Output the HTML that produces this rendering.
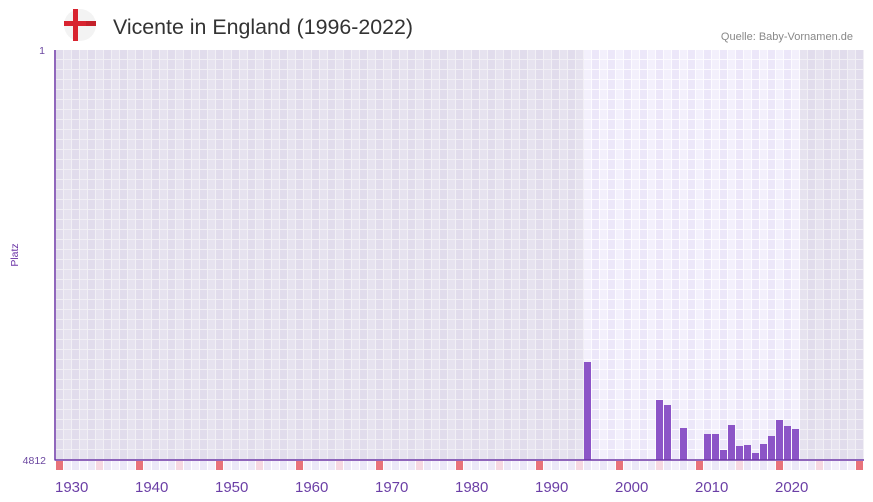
<!DOCTYPE html>
<html><head><meta charset="utf-8"><style>
html,body{margin:0;padding:0;background:#fff;}
svg{display:block;font-family:"Liberation Sans",sans-serif;}
</style></head><body>
<svg width="873" height="502" viewBox="0 0 873 502" xmlns="http://www.w3.org/2000/svg">
<defs>
<pattern id="dim" x="56" y="50" width="16" height="10" patternUnits="userSpaceOnUse">
<rect x="0" y="0" width="16" height="10" fill="#f1eff5"/>
<rect x="0" y="0" width="7" height="9" fill="#e1dcec"/>
<rect x="8" y="0" width="7" height="9" fill="#e6e2ef"/>
</pattern>
<pattern id="lit" x="584" y="50" width="16" height="10" patternUnits="userSpaceOnUse">
<rect x="0" y="0" width="16" height="10" fill="#fcfbff"/>
<rect x="0" y="0" width="7" height="9" fill="#f3f0fc"/>
<rect x="8" y="0" width="7" height="9" fill="#ece7f9"/>
</pattern>
<pattern id="bot" x="56" y="461" width="16" height="10" patternUnits="userSpaceOnUse">
<rect x="0" y="0" width="16" height="10" fill="#ffffff"/>
<rect x="0" y="0" width="7" height="9" fill="#ece8f8"/>
<rect x="8" y="0" width="7" height="9" fill="#f3f0fb"/>
</pattern>
</defs>

<!-- flag -->
<circle cx="80" cy="25" r="16" fill="#f3f3f3"/>
<rect x="73" y="9" width="5" height="32" fill="#d8232f"/>
<rect x="64" y="21" width="32" height="5" fill="#d8232f"/>
<rect x="86" y="21" width="10" height="5" fill="#b81e28" opacity="0.6"/>

<text x="113" y="34" font-size="21" fill="#333" textLength="300" lengthAdjust="spacingAndGlyphs">Vicente in England (1996-2022)</text>
<text x="853" y="40" font-size="11" fill="#888" text-anchor="end">Quelle: Baby-Vornamen.de</text>

<!-- plot grid -->
<rect x="56" y="50" width="808" height="410" fill="url(#dim)"/>
<rect x="584" y="50" width="216" height="410" fill="url(#lit)"/>

<!-- bars -->
<g fill="#8c55c7">
<rect x="584" y="362" width="7" height="98"/>
<rect x="656" y="400" width="7" height="60"/>
<rect x="664" y="405" width="7" height="55"/>
<rect x="680" y="428" width="7" height="32"/>
<rect x="704" y="434" width="7" height="26"/>
<rect x="712" y="434" width="7" height="26"/>
<rect x="720" y="450" width="7" height="10"/>
<rect x="728" y="425" width="7" height="35"/>
<rect x="736" y="446" width="7" height="14"/>
<rect x="744" y="445" width="7" height="15"/>
<rect x="752" y="453" width="7" height="7"/>
<rect x="760" y="444" width="7" height="16"/>
<rect x="768" y="436" width="7" height="24"/>
<rect x="776" y="420" width="7" height="40"/>
<rect x="784" y="426" width="7" height="34"/>
<rect x="792" y="429" width="7" height="31"/>
</g>

<!-- bottom marker row -->
<rect x="56" y="461" width="808" height="9" fill="url(#bot)"/>
<g fill="#e8737b">
<rect x="56" y="461" width="7" height="9"/>
<rect x="136" y="461" width="7" height="9"/>
<rect x="216" y="461" width="7" height="9"/>
<rect x="296" y="461" width="7" height="9"/>
<rect x="376" y="461" width="7" height="9"/>
<rect x="456" y="461" width="7" height="9"/>
<rect x="536" y="461" width="7" height="9"/>
<rect x="616" y="461" width="7" height="9"/>
<rect x="696" y="461" width="7" height="9"/>
<rect x="776" y="461" width="7" height="9"/>
<rect x="856" y="461" width="7" height="9"/>
</g>
<g fill="#f6d8e2">
<rect x="96" y="461" width="7" height="9"/>
<rect x="176" y="461" width="7" height="9"/>
<rect x="256" y="461" width="7" height="9"/>
<rect x="336" y="461" width="7" height="9"/>
<rect x="416" y="461" width="7" height="9"/>
<rect x="496" y="461" width="7" height="9"/>
<rect x="576" y="461" width="7" height="9"/>
<rect x="656" y="461" width="7" height="9"/>
<rect x="736" y="461" width="7" height="9"/>
<rect x="816" y="461" width="7" height="9"/>
</g>

<!-- axes -->
<line x1="55" y1="50" x2="55" y2="460.5" stroke="#6b35a6" stroke-width="1.5"/>
<line x1="55" y1="460" x2="864" y2="460" stroke="#6b35a6" stroke-width="1.5"/>

<!-- y labels -->
<text x="45" y="54" font-size="10.5" fill="#6b47a0" text-anchor="end">1</text>
<text x="46" y="464" font-size="10.5" fill="#6b47a0" text-anchor="end">4812</text>
<text transform="translate(18,255) rotate(-90)" font-size="10.5" fill="#6b35a6" text-anchor="middle">Platz</text>

<!-- x labels -->
<g font-size="15" fill="#6b3fa6">
<text x="55" y="492">1930</text>
<text x="135" y="492">1940</text>
<text x="215" y="492">1950</text>
<text x="295" y="492">1960</text>
<text x="375" y="492">1970</text>
<text x="455" y="492">1980</text>
<text x="535" y="492">1990</text>
<text x="615" y="492">2000</text>
<text x="695" y="492">2010</text>
<text x="775" y="492">2020</text>
</g>
</svg>
</body></html>
